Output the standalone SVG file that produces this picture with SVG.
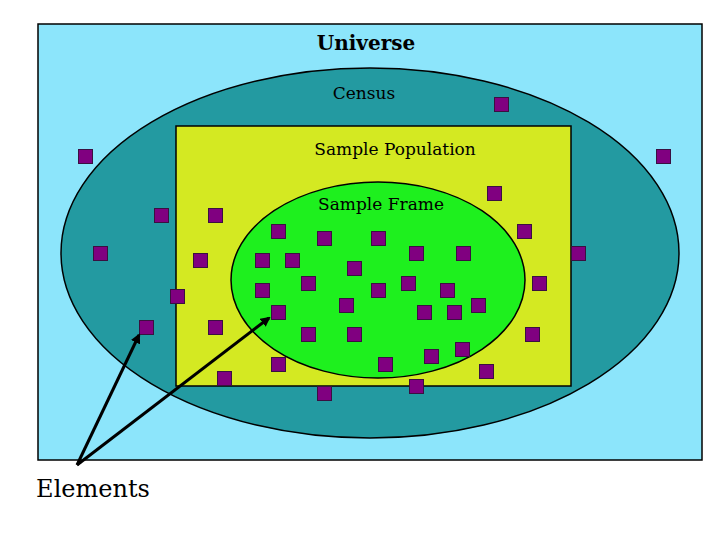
<svg xmlns="http://www.w3.org/2000/svg" width="720" height="540" viewBox="0 0 720 540">
<defs>
<style>
.sq{fill:#800080;stroke:#3a1040;stroke-width:1}
.lb{font-family:"DejaVu Serif","Liberation Serif",serif;fill:#000;text-anchor:middle}
.ar{stroke:#000;stroke-width:3;fill:none;marker-end:url(#ah)}
</style>
<marker id="ah" markerWidth="10" markerHeight="10" refX="8" refY="5" orient="auto" markerUnits="userSpaceOnUse"><path d="M0,0 L10,5 L0,10 z" fill="#000"/></marker>
<symbol id="s"><rect class="sq" x="0.5" y="0.5" width="14" height="14"/></symbol>
</defs>
<rect width="720" height="540" fill="#fff"/>
<g id="universe"><rect x="38" y="24" width="664" height="436" fill="#8ce5fb" stroke="#000" stroke-width="1.5"/>
<text class="lb" x="366" y="50" font-size="20" font-weight="bold">Universe</text></g>
<g id="census"><ellipse cx="370" cy="253" rx="309" ry="185" fill="#239aa1" stroke="#000" stroke-width="1.5"/>
<text class="lb" x="364" y="99" font-size="17">Census</text></g>
<g id="sample-population"><rect x="176" y="126" width="395" height="260" fill="#d4e922" stroke="#000" stroke-width="1.5"/>
<text class="lb" x="395" y="155" font-size="17">Sample Population</text></g>
<g id="sample-frame"><ellipse cx="378" cy="280" rx="147" ry="98" fill="#1ef01e" stroke="#000" stroke-width="1.5"/>
<text class="lb" x="381" y="210" font-size="17">Sample Frame</text></g>
<g id="elements-squares">
<use href="#s" x="78" y="149"/><use href="#s" x="494" y="97"/><use href="#s" x="656" y="149"/><use href="#s" x="487" y="186"/>
<use href="#s" x="154" y="208"/><use href="#s" x="208" y="208"/><use href="#s" x="271" y="224"/><use href="#s" x="317" y="231"/>
<use href="#s" x="371" y="231"/><use href="#s" x="517" y="224"/><use href="#s" x="93" y="246"/><use href="#s" x="193" y="253"/>
<use href="#s" x="255" y="253"/><use href="#s" x="285" y="253"/><use href="#s" x="409" y="246"/><use href="#s" x="456" y="246"/>
<use href="#s" x="571" y="246"/><use href="#s" x="347" y="261"/><use href="#s" x="301" y="276"/><use href="#s" x="401" y="276"/>
<use href="#s" x="532" y="276"/><use href="#s" x="170" y="289"/><use href="#s" x="255" y="283"/><use href="#s" x="371" y="283"/>
<use href="#s" x="440" y="283"/><use href="#s" x="339" y="298"/><use href="#s" x="471" y="298"/><use href="#s" x="271" y="305"/>
<use href="#s" x="417" y="305"/><use href="#s" x="447" y="305"/><use href="#s" x="139" y="320"/><use href="#s" x="208" y="320"/>
<use href="#s" x="301" y="327"/><use href="#s" x="347" y="327"/><use href="#s" x="525" y="327"/><use href="#s" x="455" y="342"/>
<use href="#s" x="424" y="349"/><use href="#s" x="271" y="357"/><use href="#s" x="378" y="357"/><use href="#s" x="479" y="364"/>
<use href="#s" x="217" y="371"/><use href="#s" x="409" y="379"/><use href="#s" x="317" y="386"/>
</g>
<g id="connectors">
<line class="ar" x1="77" y1="465" x2="139" y2="335"/>
<line class="ar" x1="77" y1="465" x2="269" y2="318"/>
</g>
<g id="elements-label"><text class="lb" x="93" y="497" font-size="24">Elements</text></g>
</svg>
